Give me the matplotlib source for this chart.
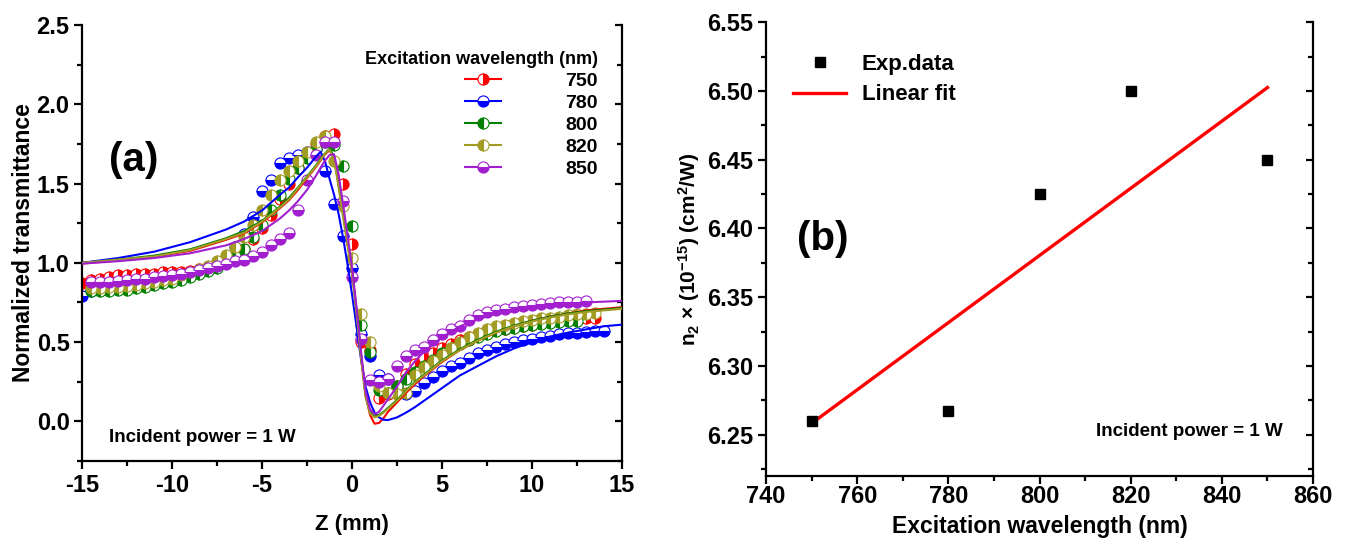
import numpy as np
import matplotlib
matplotlib.use("Agg")
import matplotlib.pyplot as plt
from matplotlib.lines import Line2D
from matplotlib.ticker import MultipleLocator, FormatStrFormatter

nan = np.nan

# ---------------- Panel (a): Z-scan traces ----------------
z_scan = [-15.0, -14.5, -14.0, -13.5, -13.0, -12.5, -12.0, -11.5, -11.0, -10.5,
          -10.0, -9.5, -9.0, -8.5, -8.0, -7.5, -7.0, -6.5, -6.0, -5.5,
          -5.0, -4.5, -4.0, -3.5, -3.0, -2.5, -2.0, -1.5, -1.0, -0.5,
          0.0, 0.5, 1.0, 1.5, 2.0, 2.5, 3.0, 3.5, 4.0, 4.5,
          5.0, 5.5, 6.0, 6.5, 7.0, 7.5, 8.0, 8.5, 9.0, 9.5,
          10.0, 10.5, 11.0, 11.5, 12.0, 12.5, 13.0, 13.5, 14.0]

t_750 = [0.87, 0.89, 0.90, 0.91, 0.92, 0.92, 0.93, 0.93, 0.93, 0.94,
         0.94, 0.94, 0.95, 0.96, 0.97, 0.98, 1.00, 1.04, 1.09, 1.15,
         1.22, 1.30, 1.40, 1.50, 1.60, 1.68, 1.75, 1.80, 1.81, 1.50,
         1.12, 0.50, 0.45, 0.15, 0.17, 0.22, 0.30, 0.36, 0.40, 0.43,
         0.46, 0.49, 0.51, 0.53, 0.55, 0.56, 0.575, 0.585, 0.595, 0.60,
         0.61, 0.62, 0.625, 0.63, 0.64, 0.645, 0.65, 0.655, nan]

t_780 = [0.79, 0.82, 0.83, 0.835, 0.84, 0.85, 0.855, 0.86, 0.87, 0.88,
         0.895, 0.91, 0.925, 0.94, 0.96, 0.99, 1.03, 1.10, 1.18, 1.29,
         1.45, 1.52, 1.63, 1.66, 1.68, 1.70, 1.72, 1.58, 1.37, 1.17,
         0.97, 0.55, 0.41, 0.29, 0.27, 0.21, 0.17, 0.19, 0.24, 0.28,
         0.32, 0.35, 0.37, 0.40, 0.43, 0.45, 0.47, 0.49, 0.50, 0.51,
         0.52, 0.53, 0.54, 0.55, 0.555, 0.56, 0.565, 0.57, 0.57]

t_800 = [nan, 0.82, 0.82, 0.82, 0.83, 0.83, 0.84, 0.85, 0.86, 0.87,
         0.88, 0.89, 0.91, 0.93, 0.95, 0.97, 1.00, 1.04, 1.09, 1.16,
         1.24, 1.33, 1.43, 1.53, 1.60, 1.66, 1.72, 1.76, 1.74, 1.61,
         1.23, 0.61, 0.44, 0.20, 0.18, 0.22, 0.27, 0.31, 0.35, 0.39,
         0.43, 0.46, 0.49, 0.51, 0.53, 0.55, 0.57, 0.58, 0.59, 0.60,
         0.61, 0.615, 0.62, 0.625, 0.63, 0.635, nan, nan, nan]

t_820 = [nan, 0.84, 0.84, 0.845, 0.85, 0.855, 0.86, 0.87, 0.88, 0.89,
         0.90, 0.92, 0.94, 0.96, 0.98, 1.01, 1.05, 1.10, 1.16, 1.24,
         1.33, 1.43, 1.52, 1.58, 1.64, 1.70, 1.76, 1.80, 1.64, 1.36,
         1.03, 0.68, 0.50, 0.22, 0.18, 0.17, 0.18, 0.29, 0.34, 0.38,
         0.42, 0.46, 0.50, 0.53, 0.56, 0.58, 0.60, 0.61, 0.62, 0.63,
         0.64, 0.65, 0.655, 0.66, 0.67, 0.675, 0.68, 0.685, nan]

t_850 = [nan, 0.88, 0.88, 0.88, 0.885, 0.89, 0.895, 0.90, 0.91, 0.915,
         0.92, 0.93, 0.94, 0.955, 0.97, 0.98, 0.995, 1.01, 1.02, 1.045,
         1.07, 1.11, 1.15, 1.19, 1.33, 1.52, 1.68, 1.76, 1.76, 1.39,
         0.91, 0.52, 0.26, 0.25, 0.27, 0.35, 0.41, 0.45, 0.47, 0.51,
         0.55, 0.58, 0.60, 0.64, 0.67, 0.69, 0.70, 0.71, 0.72, 0.73,
         0.735, 0.74, 0.745, 0.75, 0.752, 0.755, 0.76, nan, nan]

# fitted curves
z_fit = [-15, -13, -11, -9, -7, -6, -5, -4, -3.5, -3, -2.5, -2, -1.75, -1.5,
         -1.25, -1, -0.75, -0.5, -0.25, 0, 0.25, 0.5, 0.75, 1, 1.25, 1.5,
         1.75, 2, 2.5, 3, 3.5, 4, 5, 6, 7, 8, 9, 10, 11, 12, 13, 14, 15]

fit_750 = [0.995, 1.015, 1.04, 1.075, 1.145, 1.185, 1.255, 1.345, 1.395, 1.46,
           1.535, 1.605, 1.645, 1.685, 1.71, 1.66, 1.50, 1.32, 1.14, 0.95,
           0.70, 0.42, 0.17, 0.04, -0.015, -0.01, 0.02, 0.06, 0.12, 0.18,
           0.235, 0.285, 0.375, 0.45, 0.51, 0.56, 0.60, 0.635, 0.66, 0.68,
           0.70, 0.71, 0.72]

fit_780 = [1.00, 1.03, 1.07, 1.13, 1.21, 1.26, 1.33, 1.43, 1.475, 1.54,
           1.60, 1.67, 1.70, 1.64, 1.53, 1.43, 1.31, 1.16, 0.99, 0.80,
           0.60, 0.39, 0.22, 0.12, 0.055, 0.025, 0.01, 0.008, 0.025, 0.055,
           0.09, 0.13, 0.21, 0.29, 0.35, 0.41, 0.46, 0.50, 0.535, 0.56,
           0.58, 0.60, 0.61]

fit_800 = [1.00, 1.02, 1.045, 1.085, 1.155, 1.20, 1.265, 1.355, 1.41, 1.475,
           1.545, 1.615, 1.655, 1.69, 1.72, 1.67, 1.50, 1.31, 1.13, 0.95,
           0.70, 0.42, 0.17, 0.06, 0.03, 0.04, 0.06, 0.085, 0.135, 0.195,
           0.25, 0.295, 0.385, 0.455, 0.515, 0.565, 0.605, 0.635, 0.66, 0.68,
           0.695, 0.705, 0.715]

fit_820 = [1.00, 1.02, 1.04, 1.08, 1.15, 1.19, 1.26, 1.35, 1.40, 1.47,
           1.54, 1.61, 1.65, 1.69, 1.715, 1.65, 1.48, 1.29, 1.11, 0.93,
           0.68, 0.40, 0.15, 0.05, 0.025, 0.035, 0.055, 0.08, 0.13, 0.19,
           0.245, 0.29, 0.38, 0.45, 0.51, 0.56, 0.60, 0.63, 0.655, 0.675,
           0.69, 0.70, 0.71]

fit_850 = [0.995, 1.01, 1.03, 1.06, 1.11, 1.15, 1.20, 1.28, 1.33, 1.39,
           1.46, 1.55, 1.60, 1.645, 1.68, 1.685, 1.56, 1.37, 1.17, 0.97,
           0.72, 0.44, 0.19, 0.075, 0.045, 0.06, 0.10, 0.14, 0.22, 0.31,
           0.38, 0.44, 0.53, 0.60, 0.645, 0.68, 0.70, 0.72, 0.73, 0.74,
           0.75, 0.755, 0.76]

wl_labels = ["750", "780", "800", "820", "850"]
traces = [t_750, t_780, t_800, t_820, t_850]
fits = [fit_750, fit_780, fit_800, fit_820, fit_850]
colors = ["#ff0000", "#0000ff", "#008000", "#a39c24", "#a21fd0"]
halves = ["right", "bottom", "left", "left", "bottom"]

# ---------------- Panel (b): n2 vs wavelength ----------------
wavelength = [750, 780, 800, 820, 850]
n2 = [6.260, 6.267, 6.425, 6.500, 6.450]

# ---------------- Style ----------------
plt.rcParams["font.family"] = ["Liberation Sans", "DejaVu Sans"]
plt.rcParams["font.weight"] = "bold"
plt.rcParams["axes.labelweight"] = "bold"
plt.rcParams["axes.unicode_minus"] = False
plt.rcParams["mathtext.fontset"] = "custom"
plt.rcParams["mathtext.rm"] = "Liberation Sans:bold"
plt.rcParams["mathtext.it"] = "Liberation Sans:bold"
plt.rcParams["mathtext.bf"] = "Liberation Sans:bold"
plt.rcParams["mathtext.default"] = "rm"
plt.rcParams["xtick.labelsize"] = 17
plt.rcParams["ytick.labelsize"] = 17

SPINE_W = 1.6
MS = 8.0


def style_axes(ax, xmaj, xmin, ymaj, ymin, xpad):
    ax.spines["top"].set_visible(False)
    ax.spines["right"].set_visible(False)
    for s in ("left", "bottom"):
        ax.spines[s].set_linewidth(SPINE_W)
    ax.xaxis.set_major_locator(MultipleLocator(xmaj))
    ax.xaxis.set_minor_locator(MultipleLocator(xmin))
    ax.yaxis.set_major_locator(MultipleLocator(ymaj))
    ax.yaxis.set_minor_locator(MultipleLocator(ymin))
    ax.tick_params(which="major", direction="out", length=6, width=SPINE_W)
    ax.tick_params(which="minor", direction="out", length=3.5, width=SPINE_W)
    ax.tick_params(axis="x", pad=xpad)
    ax.tick_params(axis="y", pad=3)
    sec = ax.secondary_yaxis("right")
    sec.spines["right"].set_linewidth(SPINE_W)
    sec.yaxis.set_major_locator(MultipleLocator(ymaj))
    sec.yaxis.set_minor_locator(MultipleLocator(ymin))
    sec.tick_params(which="both", direction="in", labelright=False,
                    width=SPINE_W)
    sec.tick_params(which="major", length=5)
    sec.tick_params(which="minor", length=3.5)


fig = plt.figure(figsize=(13.47, 5.41), dpi=100)

# ---- (a)
ax1 = fig.add_axes([0.0609, 0.1479, 0.4009, 0.8059])
for vals, col, half in zip(traces, colors, halves):
    ax1.plot(z_scan, vals, linestyle="none", marker="o", markersize=MS,
             fillstyle=half, markerfacecolor=col, markerfacecoloralt="white",
             markeredgecolor=col, markeredgewidth=0.8, zorder=2)
for vals, col in zip(fits, colors):
    ax1.plot(z_fit, vals, color=col, linewidth=1.5, zorder=3)

ax1.set_xlim(-15, 15)
ax1.set_ylim(-0.25, 2.5)
style_axes(ax1, 5, 2.5, 0.5, 0.25, xpad=3.5)
ax1.set_xlabel("Z (mm)", fontsize=16, labelpad=12)
ax1.set_ylabel("Normalized transmittance", fontsize=16.5, labelpad=1)

handles = [Line2D([], [], color=c, linewidth=1.5, marker="o", markersize=MS,
                  fillstyle=h, markerfacecolor=c, markerfacecoloralt="white",
                  markeredgecolor=c, markeredgewidth=0.8)
           for c, h in zip(colors, halves)]
leg = ax1.legend(handles, wl_labels, title="Excitation wavelength (nm)",
                 loc="upper right", bbox_to_anchor=(0.955, 0.94),
                 frameon=False, alignment="right", fontsize=14,
                 title_fontsize=13, handlelength=1.85, handletextpad=3.3,
                 labelspacing=0.22, borderpad=0, borderaxespad=0)
leg.get_title().set_fontweight("bold")

ax1.text(0.05, 0.69, "(a)", transform=ax1.transAxes, fontsize=29,
         fontweight="bold", va="center", ha="left")
ax1.text(0.05, 0.055, "Incident power = 1 W", transform=ax1.transAxes,
         fontsize=13.5, fontweight="bold", va="center", ha="left")

# ---- (b)
ax2 = fig.add_axes([0.5687, 0.120, 0.4061, 0.839])
slope, intercept = np.polyfit(wavelength, n2, 1)
wl_line = np.array([wavelength[0], wavelength[-1]], dtype=float)
ax2.plot(wavelength, n2, linestyle="none", marker="s", markersize=7,
         color="black", label="Exp.data", zorder=3)
ax2.plot(wl_line, slope * wl_line + intercept, color="#ff0000", linewidth=2.4,
         label="Linear fit", zorder=2)
ax2.set_xlim(740, 860)
ax2.set_ylim(6.22, 6.55)
style_axes(ax2, 20, 10, 0.05, 0.025, xpad=0.5)
ax2.yaxis.set_major_formatter(FormatStrFormatter("%.2f"))
ax2.set_xlabel("Excitation wavelength (nm)", fontsize=16.5, labelpad=5)
ax2.set_ylabel(r"n$_2$ × (10$^{-15}$) (cm$^2$/W)", fontsize=15, labelpad=4)

leg2 = ax2.legend(loc="upper left", bbox_to_anchor=(0.049, 0.93),
                  frameon=False, fontsize=16, handlelength=2.4,
                  handletextpad=0.7, labelspacing=0.42, borderpad=0,
                  borderaxespad=0)

ax2.text(0.945, 0.098, "Incident power = 1 W", transform=ax2.transAxes,
         fontsize=13.5, fontweight="bold", va="center", ha="right")
ax2.text(0.057, 0.523, "(b)", transform=ax2.transAxes, fontsize=29,
         fontweight="bold", va="center", ha="left")

fig.savefig("out.png", dpi=100)
